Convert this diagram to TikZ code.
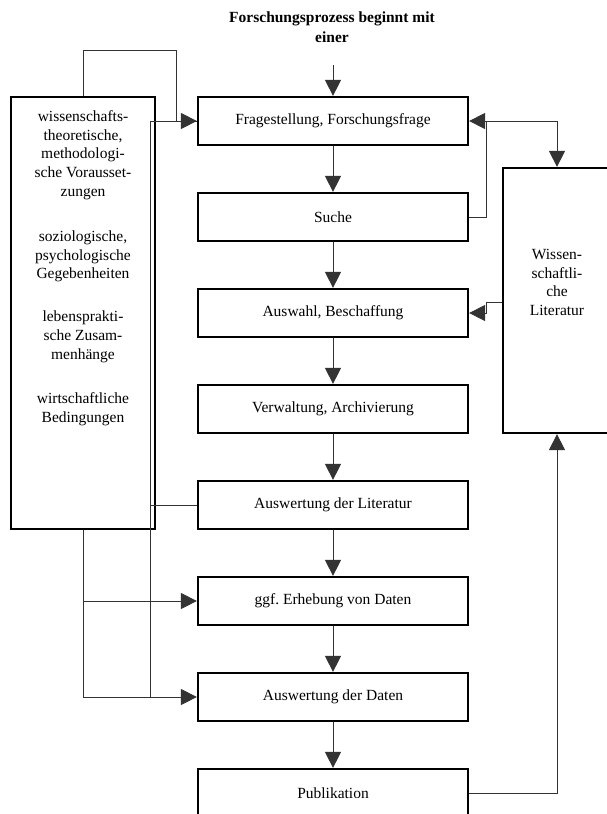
\documentclass[tikz,border=0pt]{standalone}
\usepackage{fontspec}
\setmainfont{Liberation Serif}
\usetikzlibrary{arrows.meta}
\begin{document}
\begin{tikzpicture}[x=1pt,y=-1pt,
  stepbox/.style={draw,line width=2.2pt,minimum width=270pt,minimum height=48pt,inner sep=0pt,font=\fontsize{15.5}{18.5}\selectfont},
  sidebox/.style={draw,line width=2.2pt,inner sep=0pt},
  txt/.style={align=center,inner sep=0pt,font=\fontsize{15.5}{18.6}\selectfont},
  conn/.style={line width=0.9pt,draw=black!80},
  arr/.style={conn,-{Triangle[length=16pt,width=16pt]}}]
\useasboundingbox (0,0) rectangle (607,814);
% title
\node[txt,font=\fontsize{15.5}{20}\selectfont\bfseries,anchor=north] (title) at (332,12) {Forschungsprozess beginnt mit\\einer};
\coordinate (start) at (333,65);
% main column
\node[stepbox] (frage)  at (333,121) {Fragestellung, Forschungsfrage};
\node[stepbox] (suche)  at (333,217) {Suche};
\node[stepbox] (auswahl) at (333,313) {Auswahl, Beschaffung};
\node[stepbox] (verw)   at (333,409) {Verwaltung, Archivierung};
\node[stepbox] (auslit) at (333,505) {Auswertung der Literatur};
\node[stepbox] (erheb)  at (333,601) {ggf.\ Erhebung von Daten};
\node[stepbox] (ausdat) at (333,697) {Auswertung der Daten};
\node[stepbox] (pub)    at (333,793) {Publikation};
% side boxes
\node[sidebox,minimum width=144pt,minimum height=432pt] (left) at (83,313) {};
\node[txt,anchor=north] (lefttext) at (83,110.5) {wissenschafts-\\theoretische,\\methodologi-\\sche Vorausset-\\zungen\\[27pt]soziologische,\\psychologische\\Gegebenheiten\\[24.5pt]lebensprakti-\\sche Zusam-\\menhänge\\[26pt]wirtschaftliche\\Bedingungen};
\node[sidebox,minimum width=108pt,minimum height=265pt] (lit) at (557,300.5) {};
\node[txt] (littext) at (557,282.5) {Wissen-\\schaftli-\\che\\Literatur};
% main arrows
\draw[arr] (start) -- (frage);
\draw[arr] (frage) -- (suche);
\draw[arr] (suche) -- (auswahl);
\draw[arr] (auswahl) -- (verw);
\draw[arr] (verw) -- (auslit);
\draw[arr] (auslit) -- (erheb);
\draw[arr] (erheb) -- (ausdat);
\draw[arr] (ausdat) -- (pub);
% right connectors
\coordinate (r1) at (486,121);
\coordinate (r2) at (486,302);
\draw[arr] (suche.east) -| (r1) -- (frage.east);
\draw[arr] (r1) -| (lit.north);
\draw[arr] (lit.west |- r2) -- (r2) |- (auswahl.east);
\draw[arr] (pub.east) -| (lit.south);
% left connectors
\coordinate (l2) at (176,50);
\coordinate (c150top) at (150,121);
\coordinate (c150bot) at (150,697);
\draw[conn] (left.north) |- (l2) |- (frage.west);
\draw[arr] (c150top) -- (frage.west);
\draw[conn] (auslit.west) -| (c150top);
\draw[conn] (auslit.west) -| (c150bot);
\draw[arr] (left.south) |- (erheb.west);
\draw[arr] (left.south) |- (ausdat.west);
\end{tikzpicture}
\end{document}
